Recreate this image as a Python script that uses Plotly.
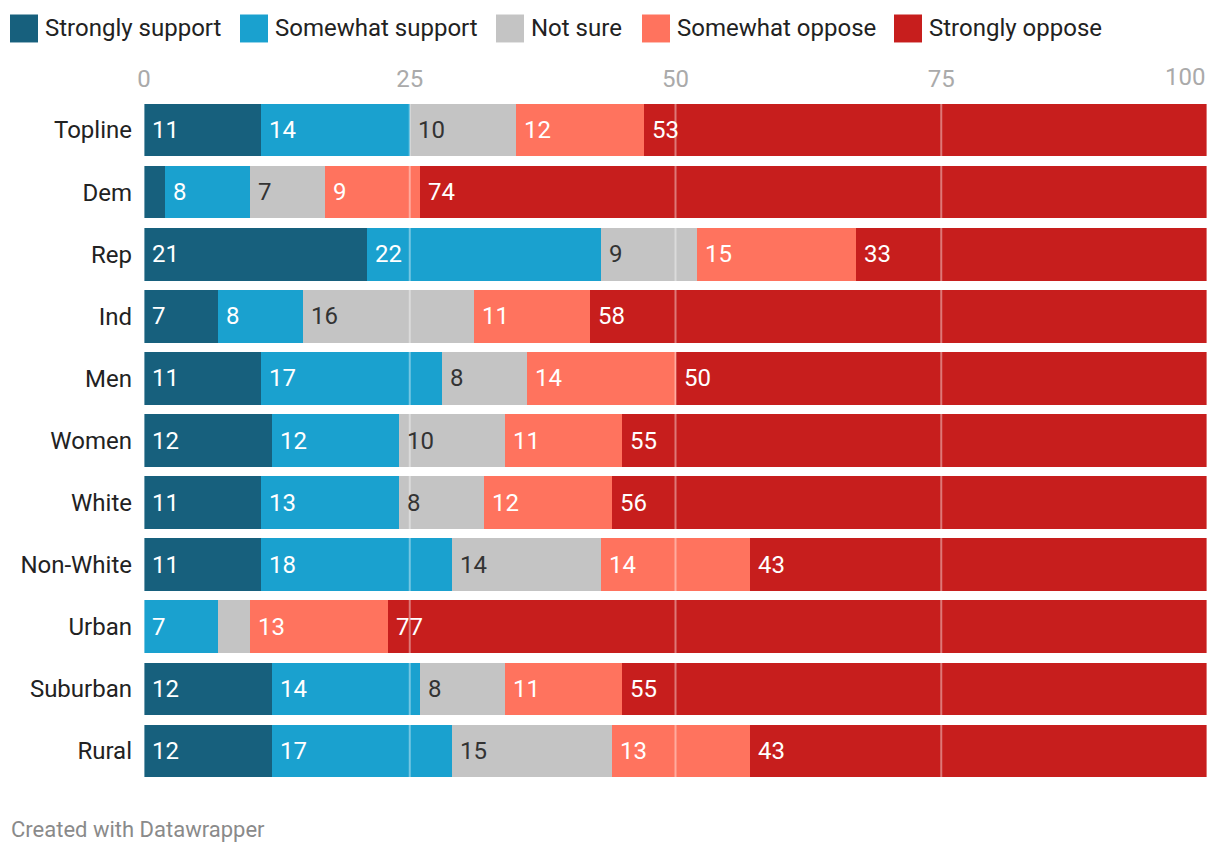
import plotly.graph_objects as go

# ---------------- data ----------------
categories = ["Topline", "Dem", "Rep", "Ind", "Men", "Women", "White",
              "Non-White", "Urban", "Suburban", "Rural"]
series_names = ["Strongly support", "Somewhat support", "Not sure",
                "Somewhat oppose", "Strongly oppose"]
strongly_support = [11, 2, 21, 7, 11, 12, 11, 11, 0, 12, 12]
somewhat_support = [14, 8, 22, 8, 17, 12, 13, 18, 7, 14, 17]
not_sure = [10, 7, 9, 16, 8, 10, 8, 14, 3, 8, 15]
somewhat_oppose = [12, 9, 15, 11, 14, 11, 12, 14, 13, 11, 13]
strongly_oppose = [53, 74, 33, 58, 50, 55, 56, 43, 77, 55, 43]
tick_values = [0, 25, 50, 75, 100]
tick_labels = ["0", "25", "50", "75", "100"]

series_values = [strongly_support, somewhat_support, not_sure,
                 somewhat_oppose, strongly_oppose]

# ---------------- styles ----------------
colors = ["#17607d", "#1aa1cf", "#c4c4c4", "#ff735e", "#c71e1d"]
label_colors = ["#ffffff", "#ffffff", "#333333", "#ffffff", "#ffffff"]
FONT = "Roboto"
W, H = 1220, 856
ML, MR, MT, MB = 144, 13, 98.6, 73.6
PW, PH = W - ML - MR, H - MT - MB
MIN_LABEL = 5


def px_x(px):
    return (px - ML) / PW


def px_y(py):
    return (H - MB - py) / PH


fig = go.Figure()
for name, vals, col in zip(series_names, series_values, colors):
    fig.add_trace(go.Bar(
        y=categories, x=vals, name=name, orientation="h",
        marker=dict(color=col, line=dict(width=0)),
        showlegend=False, hoverinfo="x+y+name",
    ))

annotations = []
# value labels, left-aligned inside each segment
for i, cat in enumerate(categories):
    start = 0
    for s, vals in enumerate(series_values):
        v = vals[i]
        if v >= MIN_LABEL:
            annotations.append(dict(
                x=start, y=cat, xref="x", yref="y", text=str(v),
                xanchor="left", yanchor="middle", xshift=6, showarrow=False,
                font=dict(family=FONT, size=24, color=label_colors[s]),
            ))
        start += v

# last tick label right-aligned at the end of the axis
annotations.append(dict(
    x=tick_values[-1], y=1, xref="x", yref="paper", text=tick_labels[-1],
    xanchor="right", yanchor="bottom", yshift=6, showarrow=False,
    font=dict(family=FONT, size=24, color="#aaaaaa"),
))

# custom legend
legend_sq_x = [10, 240, 496, 642, 894]
shapes = []
for name, col, sx in zip(series_names, colors, legend_sq_x):
    shapes.append(dict(
        type="rect", xref="paper", yref="paper",
        x0=px_x(sx), x1=px_x(sx + 28), y0=px_y(42), y1=px_y(14),
        fillcolor=col, line=dict(width=0), layer="above",
    ))
    annotations.append(dict(
        x=px_x(sx + 33), y=px_y(28), xref="paper", yref="paper", text=name,
        xanchor="left", yanchor="middle", showarrow=False,
        font=dict(family=FONT, size=24, color="#222222"),
    ))

# footer
annotations.append(dict(
    x=px_x(9), y=px_y(830), xref="paper", yref="paper",
    text="Created with Datawrapper", xanchor="left", yanchor="middle",
    showarrow=False, font=dict(family=FONT, size=22, color="#8a8a8a"),
))

# grid lines drawn over the bars
for tv in tick_values:
    shapes.append(dict(
        type="line", xref="x", yref="paper", x0=tv, x1=tv, y0=0, y1=1,
        line=dict(color="rgba(255,255,255,0.4)", width=2), layer="above",
    ))

fig.update_layout(
    barmode="stack",
    bargap=0.151,
    width=W, height=H,
    margin=dict(l=ML, r=MR, t=MT, b=MB, autoexpand=False),
    paper_bgcolor="white", plot_bgcolor="white",
    font=dict(family=FONT, size=24, color="#222222"),
    annotations=annotations,
    shapes=shapes,
    xaxis=dict(
        range=[0, 100], side="top", tickvals=tick_values[:-1],
        ticktext=tick_labels[:-1], showgrid=False, zeroline=False,
        showline=False, ticks="", ticklabelstandoff=6,
        tickfont=dict(family=FONT, size=24, color="#aaaaaa"), fixedrange=True,
    ),
    yaxis=dict(
        autorange="reversed", showgrid=False, zeroline=False, showline=False,
        ticks="", ticklabelstandoff=11,
        tickfont=dict(family=FONT, size=24, color="#222222"), fixedrange=True,
    ),
)

fig.write_html(
    "out.html",
    config={"displayModeBar": False},
    post_script="document.body.style.margin='0px';"
                "document.body.style.overflow='hidden';",
)
